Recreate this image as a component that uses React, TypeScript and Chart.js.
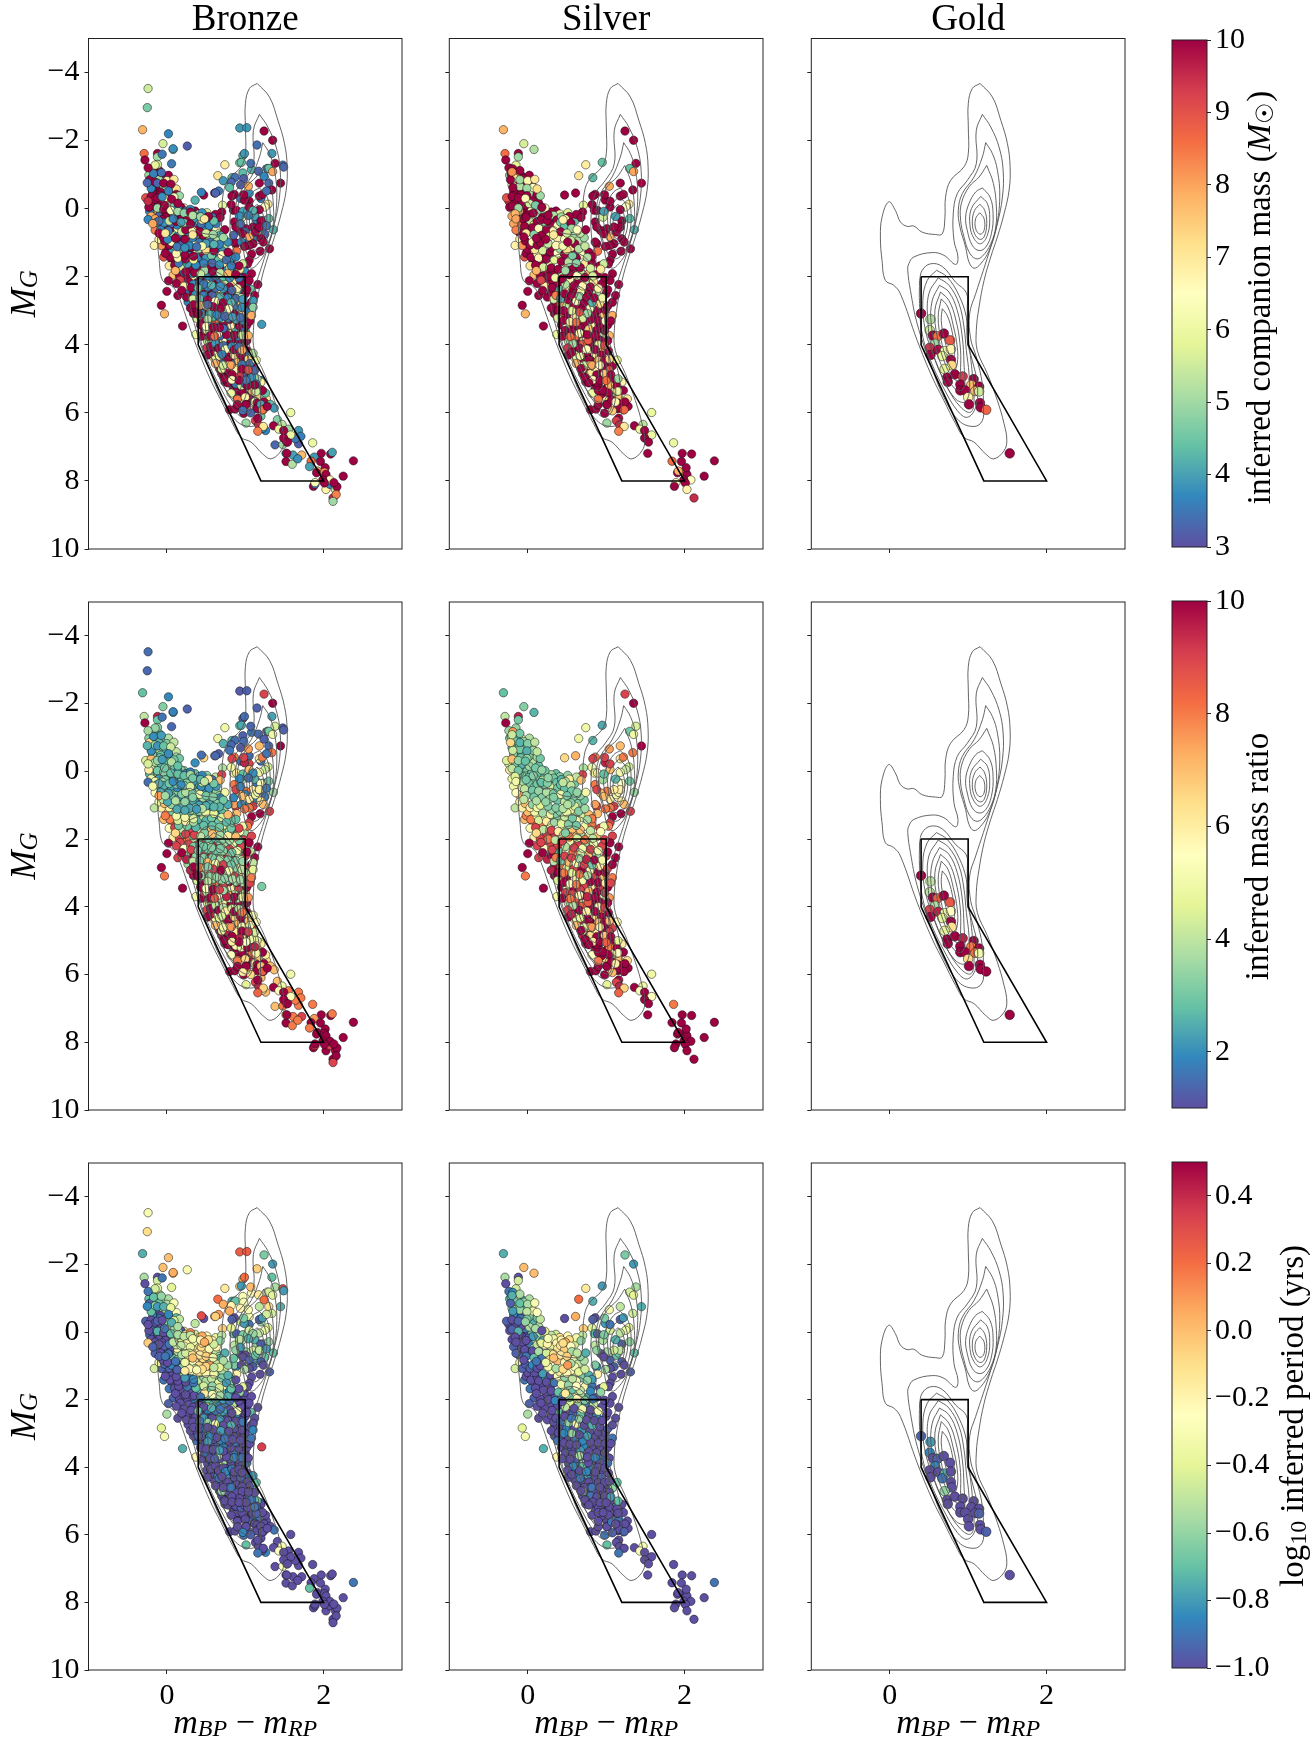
import React, { useEffect, useRef } from "react";
import { Chart, registerables } from "chart.js";
Chart.register(...registerables);

type Pt = [number, number, number, number, number]; // colour index, magnitude, mass, ratio, log period
const FONT = "'Liberation Serif', serif";

const columnTitles = ["Bronze", "Silver", "Gold"];
const xTickValues = [0, 2];
const yTickValues = [-4, -2, 0, 2, 4, 6, 8, 10];
const massTicks = [3, 4, 5, 6, 7, 8, 9, 10];
const ratioTicks = [2, 4, 6, 8, 10];
const periodTicks = [-1, -0.8, -0.6, -0.4, -0.2, 0, 0.2, 0.4];
const selectionBox = [[0.4, 2], [1, 2], [1, 4], [2, 8], [1.2, 8], [0.4, 4], [0.4, 2]];
const spectralStops = ["#5e4fa2", "#3288bd", "#66c2a5", "#abdda4", "#e6f598", "#ffffbf", "#fee08b", "#fdae61", "#f46d43", "#d53e4f", "#9e0142"];

const contour1 = [[1.152,-3.68],[1.309,-3.28],[1.416,-2.6],[1.501,-1.91],[1.535,-1.23],[1.522,-0.54],[1.458,0.15],[1.373,0.83],[1.288,1.42],[1.203,2.11],[1.139,2.89],[1.104,3.58],[1.117,4.17],[1.245,4.85],[1.373,5.64],[1.458,6.32],[1.493,6.81],[1.458,7.11],[1.33,7.35],[1.224,7.21],[1.075,6.86],[0.947,6.72],[0.84,6.32],[0.691,5.64],[0.542,4.95],[0.35,3.87],[0.136,2.5],[0.051,2.25],[-0.055,2.11],[-0.098,1.52],[-0.119,0.83],[-0.098,0.25],[-0.013,-0.2],[0.072,0.05],[0.136,0.39],[0.222,0.52],[0.307,0.51],[0.414,0.69],[0.584,0.76],[0.67,0.74],[0.704,0.25],[0.712,-0.34],[0.776,-0.83],[0.947,-1.23],[1.002,-1.62],[1.002,-2.4],[1.002,-3.09],[1.053,-3.53],[1.152,-3.68]];
const contour2 = [[1.181,-2.77],[1.288,-2.4],[1.394,-1.81],[1.446,-1.13],[1.437,-0.34],[1.373,0.44],[1.288,1.13],[1.194,1.81],[1.096,2.5],[1.019,3.09],[1.032,3.82],[1.104,4.36],[1.181,5.15],[1.194,5.83],[1.181,6.23],[1.075,6.4],[0.883,6.23],[0.691,5.54],[0.52,4.56],[0.35,3.38],[0.264,2.4],[0.23,1.81],[0.243,1.62],[0.307,1.42],[0.542,1.29],[0.691,1.37],[0.84,1.64],[0.87,1.42],[0.819,0.93],[0.81,0.15],[0.861,-0.44],[0.989,-0.83],[1.104,-1.32],[1.104,-2.3],[1.181,-2.77]];
const contour3 = [[1.224,-1.94],[1.309,-1.62],[1.373,-1.13],[1.403,-0.34],[1.36,0.54],[1.267,1.23],[1.16,1.62],[1.075,1.75],[1.011,1.57],[0.968,1.13],[0.896,0.54],[0.874,0.05],[0.925,-0.44],[1.075,-0.93],[1.181,-1.52],[1.224,-1.94]];
const contour4 = [[1.237,-1.27],[1.322,-0.74],[1.36,-0.05],[1.352,0.54],[1.288,1.03],[1.181,1.4],[1.096,1.47],[1.011,1.27],[0.947,0.83],[0.904,0.34],[0.913,-0.15],[1.011,-0.64],[1.139,-0.93],[1.237,-1.27]];
const contour5 = [[1.181,-0.61],[1.279,-0.34],[1.318,0.15],[1.296,0.74],[1.224,1.13],[1.139,1.23],[1.053,1.08],[0.989,0.64],[0.968,0.25],[1.011,-0.15],[1.096,-0.49],[1.181,-0.61]];
const contour6 = [[1.16,-0.36],[1.245,-0.15],[1.275,0.29],[1.245,0.78],[1.16,1.03],[1.075,0.88],[1.023,0.49],[1.041,0],[1.16,-0.36]];
const contour7 = [[1.151,-0.13],[1.211,0.05],[1.237,0.44],[1.203,0.83],[1.147,0.9],[1.083,0.74],[1.053,0.39],[1.083,0.05],[1.151,-0.13]];
const contour8 = [[1.147,0.12],[1.203,0.29],[1.203,0.64],[1.151,0.75],[1.096,0.59],[1.096,0.29],[1.147,0.12]];
const contourL1 = [[0.38,2.11],[0.414,1.81],[0.52,1.62],[0.67,1.7],[0.84,2.16],[0.977,2.47],[0.989,2.89],[0.989,3.87],[1.053,4.46],[1.117,5.15],[1.096,5.83],[0.989,6.13],[0.861,5.93],[0.691,5.29],[0.52,4.46],[0.414,3.68],[0.38,2.79],[0.38,2.11]];
const contourL2 = [[0.597,1.81],[0.733,2.01],[0.883,2.55],[0.977,3.19],[1.011,3.97],[1.053,4.85],[1.075,5.64],[1.032,5.98],[0.904,5.83],[0.733,5.25],[0.584,4.46],[0.456,3.58],[0.422,2.7],[0.478,2.11],[0.597,1.81]];
const contourL3 = [[0.618,2.03],[0.755,2.25],[0.883,2.79],[0.947,3.48],[0.977,4.17],[1.011,4.85],[1.011,5.44],[0.947,5.69],[0.819,5.54],[0.67,4.95],[0.542,4.17],[0.486,3.28],[0.499,2.5],[0.618,2.03]];
const contourL4 = [[0.635,2.25],[0.755,2.45],[0.861,2.99],[0.925,3.77],[0.947,4.56],[0.947,5.25],[0.861,5.34],[0.733,4.95],[0.606,4.26],[0.529,3.38],[0.542,2.7],[0.635,2.25]];
const contourL5 = [[0.648,2.45],[0.755,2.7],[0.84,3.24],[0.896,3.97],[0.904,4.66],[0.883,5.05],[0.797,4.95],[0.691,4.46],[0.606,3.77],[0.576,2.99],[0.648,2.45]];
const contourL6 = [[0.657,2.65],[0.742,2.89],[0.81,3.43],[0.861,4.07],[0.861,4.56],[0.819,4.75],[0.733,4.46],[0.657,3.87],[0.618,3.19],[0.657,2.65]];
const contourL7 = [[0.67,2.94],[0.733,3.14],[0.797,3.63],[0.827,4.17],[0.81,4.41],[0.755,4.26],[0.691,3.77],[0.657,3.28],[0.67,2.94]];
const contours = [contour1, contour2, contour3, contour4, contour5, contour6, contour7, contour8, contourL1, contourL2, contourL3, contourL4, contourL5, contourL6, contourL7];

const goldPoints: Pt[] = [
[0.4,3.08,10,10,-0.95],[0.52,3.25,5.2,4,-0.8],[0.51,3.57,5.5,4,-0.85],[0.55,3.73,10,10,-1],[0.61,3.75,8.6,8.5,-0.95],[0.69,3.67,10,10,-1],[0.77,3.87,8.9,8.6,-1],[0.58,3.97,5,3.8,-0.85],[0.51,4.09,9.4,9,-1],[0.62,4.15,9.9,9.5,-1],[0.7,4.19,6.2,5,-0.75],[0.78,4.13,6.7,5.5,-1],[0.52,4.3,10,10,-1],[0.67,4.33,5.9,4.6,-0.9],[0.78,4.44,10,10,-1],[0.79,4.6,7.3,6.3,-1],[0.7,4.71,5.8,4.7,-0.6],[0.73,4.97,10,10,-1],[0.83,4.87,10,10,-1],[0.93,4.93,9.3,9.5,-1],[0.74,5.09,10,10,-1],[1.07,5.01,10,10,-1],[0.9,5.17,10,10,-1],[1.04,5.18,7.7,8,-1],[1.14,5.23,10,10,-1],[0.9,5.34,10,10,-1],[0.96,5.34,10,10,-1],[1.09,5.36,7.8,8.2,-1],[1.14,5.37,5.5,5,-0.95],[1,5.54,6.8,6.5,-1],[1.01,5.75,10,10,-1],[1.15,5.71,10,10,-1],[1.16,5.84,10,10,-1],[1.23,5.91,8.7,10,-0.95],[1.53,7.19,10,10,-1]];

const silverPoints: Pt[] = [
[-0.31,-2.32,7.8,2.8,-0.75],[-0.05,-1.91,5.6,3.2,0],[0.08,-1.74,5.2,2.6,0],[-0.29,-1.62,8.6,4,-0.55],[-0.12,-1.62,10,9.5,-1],[-0.12,-1.52,5,3,-0.45],[-0.28,-1.43,10,10,-1],
[1.24,-2.28,10,9,-0.65],[1.35,-2.01,10,10,-0.8],[1.38,-1.33,10,4.4,-0.55],[1.3,-1.18,4.4,3,-0.45],[1.35,-1.09,8,5,-0.4],[1.45,-0.75,10,10,-0.75],[1.18,-0.75,10,7,-0.5],[1.34,-0.55,10,8,-0.45],[1.04,-0.66,7.9,7.5,-0.3],[0.95,-1.36,4.4,2.4,-0.8],[0.74,-1.29,6.9,5,-0.15],[0.65,-0.97,7.1,5,0.2],[0.83,-0.91,4.3,2.6,-0.75],[0.47,-0.4,10,6.5,-1],[0.61,-0.46,10,7.2,0.05],
[0.86,-0.42,10,8,-1],[0.83,-0.37,10,9,-0.95],[0.98,-0.41,10,9,-0.65],[1.18,-0.37,10,6,-0.95],[1.22,-0.42,10,8,-0.8],[0.71,-0.1,5.8,3.8,-0.05],[0.82,-0.12,10,5,-0.4],[0.7,0.1,10,9,-0.5],[0.68,0.26,10,7,-0.6],[0.53,0.23,10,6,-0.1],[0.85,0.05,10,4.8,-0.7],[0.89,0.05,10,6,-0.95],[0.97,0.08,4,2.8,-0.65],[1.05,-0.22,10,9,-0.9],[1.05,-0.05,10,7,-0.45],[0.99,-0.25,10,9.5,-0.8],[1.29,-0.13,7,4.4,-0.4],[1.25,-0.05,6.5,4.2,-0.35],[1.18,0.03,10,5,-0.5],[1.12,0.23,4,2.6,-0.75],[0.96,0.25,5.5,3.6,-0.55],[1.3,0.29,4.3,3,-0.6],[1.36,0.62,4.2,3.5,-0.7],[1.2,0.36,10,5.5,-0.95],[1.18,0.54,10,6,-0.5],[1.1,0.54,10,6,-0.45],[1.01,0.59,10,8,-0.55],[0.93,0.64,10,7,-1],[0.86,0.39,10,8,-0.5],[0.88,0.54,10,9,-0.6],[0.97,0.74,10,7,-1],[1.05,0.83,7.9,6,-0.95],[1.13,0.69,10,5,-0.7],[1.2,0.88,10,6,-0.95],[1.23,0.98,10,7,-1],[1.31,1.18,10,9,-0.95],[1.19,1.25,10,10,-1],[1.1,1.03,10,9,-0.95],[1.05,1.08,10,8,-1],[0.99,1.11,10,8,-0.55],[0.88,1.03,10,9,-0.85],[0.86,0.98,10,7.5,-0.65],[0.89,1.25,8.5,7,-0.2],[0.82,1.4,10,8,-0.8],[1.08,1.34,10,10,-1],[1.05,1.52,10,9,-1],[1.03,1.62,10,8,-1],[0.97,1.62,5.5,5,-0.4],[0.93,1.78,7,5.6,-0.6],[1.08,1.91,10,9,-1],[1.05,2.11,10,10,-1],[1.16,2.23,10,10,-1],[1.12,2.55,10,10,-1],
[-0.15,-1.28,5.8,3.4,-0.45],[-0.24,-1.2,10,3.6,-0.9],[-0.19,-1.17,10,7.6,-0.85],[-0.1,-1.12,10,3,-0.55],[-0.2,-1.08,8.2,4.2,-0.75],[-0.12,-1.02,10,2.8,-0.45],[-0.23,-0.98,5,3.2,-0.7],[-0.08,-0.97,10,5.2,-0.75],[0.02,-0.98,10,3.8,-0.55],[-0.17,-0.9,7.2,3,-0.65],[-0.22,-0.85,10,6.5,-0.95],[-0.1,-0.85,5,2.6,-0.7],[0,-0.82,6.7,3.2,-0.55],[0.09,-0.86,7,4,-0.3],[-0.15,-0.78,10,3.6,-0.6],[-0.04,-0.75,10,2.8,-0.75],[0.05,-0.72,10,4.2,-0.4],[-0.2,-0.7,6.2,2.6,-0.5],[-0.1,-0.65,5.2,3,-0.6],[0.07,-0.62,6.5,3.5,-0.35],[0.12,-0.58,7.2,4,-0.25],[-0.01,-0.6,5,2.5,-0.5],[-0.13,-0.55,10,4.2,-0.95],[-0.18,-0.5,10,3.2,-0.85],[-0.08,-0.48,10,2.8,-1],[0.02,-0.45,5.2,3.2,-0.6],[0.12,-0.42,10,3.6,-0.7],[0.16,-0.38,5,3,-0.5],[-0.2,-0.36,10,7,-1],[-0.12,-0.32,10,3.4,-0.95],[-0.03,-0.3,6.6,2.8,-0.6],[0.06,-0.28,10,3.8,-0.75],[-0.24,-0.22,9.5,4.4,-1],[-0.16,-0.18,10,3,-1],[-0.07,-0.2,10,2.6,-1],[0.02,-0.15,5.6,3.5,-0.55],[0.1,-0.1,4.6,3,-0.55],[0.18,-0.04,10,3.4,-1],[-0.2,-0.08,10,4,-0.95],[-0.12,-0.02,5,3,-0.75],[-0.04,0.02,10,3.2,-1],[0.05,0.05,6.6,2.8,-0.7],[0.14,0.08,5,2.8,-0.55],[0.22,0.13,4.8,2.8,-0.5],[0.3,0.1,10,3.6,-0.5],[0.33,0.2,5.2,3,-0.35],[0.43,0.24,5,2.6,-0.2],[0.48,0.3,7,4,0.05],[-0.16,0.15,7.8,4.5,-1],[-0.08,0.12,10,3.4,-1],[0.01,0.18,10,2.8,-0.95],[0.1,0.22,5,3,-0.6],[0.19,0.26,10,3.8,-0.75],[0.27,0.28,6,3.4,-0.3],[0.37,0.33,10,2.9,-0.2],[0.42,0.4,4.6,2.8,-0.15],[0.55,0.42,10,4,-0.25],[-0.15,0.3,8,5,-1],[-0.06,0.32,10,3.6,-1],[0.03,0.36,5.4,3,-0.9],[0.12,0.38,10,3,-0.5],[0.22,0.42,5,3,-0.3],[0.3,0.45,10,4.4,-0.4],[0.38,0.5,6.4,3,-0.15],[0.47,0.52,4.4,2.8,-0.05],[0.56,0.58,5,3,-0.55],[0.63,0.62,6.6,3.4,-0.5],[-0.12,0.5,8.6,5,-1],[-0.04,0.52,10,4,-1],[0.06,0.56,10,3,-1],[0.14,0.58,6.4,3.4,-0.55],[0.24,0.62,10,3.8,-0.45],[0.33,0.65,6.7,3,-0.1],[0.42,0.68,10,5,-0.15],[0.5,0.72,5.6,3,-0.05],[0.59,0.76,5,3.2,-0.35],[-0.1,0.72,10,7.5,-0.95],[-0.02,0.72,7,3.6,-0.9],[0.08,0.76,4.8,3,-0.7],[0.18,0.78,10,3.2,-0.9],[0.28,0.82,6,3.6,-0.1],[0.38,0.86,6.8,2.9,0],[0.47,0.9,6.5,4,-0.3],[0.55,0.93,5.4,3.2,-0.55],[0.64,0.95,5.2,3.2,-0.5],[-0.16,1.08,6.8,4,-0.45],[-0.1,0.9,6.8,5,-0.35],[-0.03,0.95,10,7,-0.95],[0.06,0.98,6.6,3.4,-0.85],[0.16,1,10,4.6,-1],[0.26,1.03,5.4,3.2,-0.35],[0.36,1.08,6.7,3.2,-0.55],[0.45,1.1,6.2,3.8,-0.1],[0.55,1.14,7,4.6,-0.25],[0.65,1.18,5.2,3.2,-0.4],[0,1.2,10,7,-1],[0.09,1.2,7,5,-1],[0.19,1.23,5.6,3.6,-0.8],[0.29,1.27,10,5,-1],[0.38,1.3,6.5,3.2,-0.3],[0.47,1.34,10,4.2,-0.6],[0.57,1.38,4.6,3,-0.5],[0.7,1.36,6.6,4.4,-0.65],[-0.04,1.42,9,7,-0.9],[0.04,1.42,10,8,-1],[0.14,1.45,6.7,4.4,-1],[0.24,1.48,10,6,-1],[0.34,1.5,5.8,3.6,-0.9],[0.43,1.55,10,4.6,-0.35],[0.52,1.57,5.2,3.2,-0.6],[0.62,1.6,4.8,3,-0.25],[0.73,1.62,7,5,-0.2],[0.82,1.6,10,8,-0.9],
[0.03,1.68,7,5.6,-0.9],[0.1,1.66,10,9,-1],[0.2,1.72,5.6,4,-1],[0.3,1.74,10,9,-1],[0.39,1.78,10,6,-0.7],[0.48,1.82,5,3.2,-0.15],[0.58,1.85,10,7,-0.3],[0.68,1.88,5.4,3.6,-0.55],[0.78,1.9,7.8,6,-0.75],[0.88,1.93,10,7,-1],[0.08,1.95,7.6,6,-0.95],[0.16,1.98,10,9,-1],[0.26,2,10,8,-1],[0.35,2.03,6,4,-0.85],[0.44,2.06,10,9,-1],[0.54,2.1,6.7,5,-0.4],[0.64,2.12,10,9,-0.6],[0.74,2.13,5.4,3.6,-0.9],[0.84,2.15,7,5,-0.5],[0.95,2.2,10,9,-1],[0.02,2.12,10,10,-0.95],[0.12,2.2,10,9,-1],[0.22,2.28,6.8,5.5,-1],[0.31,2.32,10,9,-1],[0.4,2.34,4.4,3,-0.7],[0.49,2.36,7,5.5,-1],[0.58,2.4,10,8,-0.95],[0.68,2.44,6,4,-0.7],[0.78,2.45,10,7,-1],[0.88,2.48,5.2,3.6,-0.85],[1,2.5,10,9,-1],[0,2.43,10,10,-0.55],[0.14,2.55,10,9,-1],[0.25,2.6,10,9.5,-1],[0.33,2.66,5.6,4,-1],[0.42,2.64,4.2,3,-0.9],[0.52,2.68,10,7,-0.6],[0.62,2.72,6.6,5,-0.35],[0.72,2.76,10,9,-1],[0.82,2.76,4.2,3,-0.75],[0.92,2.8,7.2,6,-1],[1.02,2.86,10,9,-0.95],[-0.07,2.84,10,10,-0.4],[-0.03,3.09,7.8,8,-0.3],[0.2,3.45,10,10,-0.75],[0.3,2.92,10,9.5,-1],[0.39,2.98,10,10,-1],[0.46,3,10,8,-0.85],[0.56,3,5.8,4.6,-0.6],[0.66,3.04,9,8,-1],[0.76,3.08,5,3.8,-0.8],[0.86,3.1,10,9,-1],[0.96,3.14,7.6,7,-1],[1.08,3.14,7.9,8,-0.9],[0.37,3.7,6,5,-0.2],[0.38,3.22,5.6,4.4,-0.9],[0.46,3.28,10,10,-1],[0.54,3.32,7,5.5,-1],[0.62,3.34,8.6,8,-1],[0.72,3.38,10,9,-0.85],[0.82,3.42,6.8,6,-1],[0.92,3.44,10,9,-1],[1.02,3.42,10,10,-1],[0.48,3.58,10,9,-1],[0.57,3.62,10,9,-1],[0.66,3.66,6.6,5.6,-0.55],[0.76,3.7,10,9.5,-1],[0.86,3.72,10,10,-0.85],[0.96,3.72,5.5,5,-0.9],[1.04,3.73,7.8,7.6,-1],[0.52,3.9,5.5,4.4,-1],[0.6,3.94,10,9,-0.85],[0.7,3.98,8.8,8.4,-0.7],[0.8,4,10,10,-0.9],[0.9,4,6,5.6,-1],[0.98,4.02,9,9,-1],[0.56,4.22,10,9.5,-1],[0.65,4.26,6.5,5.5,-0.85],[0.76,4.32,10,10,-0.8],[0.86,4.3,7,6.5,-1],[0.94,4.3,10,10,-0.95],[1.14,4.45,6,5.5,-0.7],[0.62,4.55,7.8,7,-1],[0.72,4.6,5.6,5,-1],[0.82,4.6,8,7.6,-0.9],[0.92,4.6,6.6,6,-1],[1,4.6,10,10,-1],[1.08,4.62,10,9,-0.6],[0.7,4.85,10,9.5,-1],[0.8,4.85,7,6.4,-0.9],[0.88,4.88,10,10,-1],[0.98,4.85,7.6,7,-1],[1.06,4.88,10,10,-0.8],[1.15,5,5,4.6,-0.7],[0.78,5.12,10,10,-1],[0.87,5.15,10,10,-0.85],[0.95,5.2,5.6,5,-0.95],[1.03,5.2,10,10,-1],[1.12,5.18,10,9.5,-0.9],[0.82,5.42,6,5.4,-1],[0.94,5.45,10,10,-1],[1.03,5.42,10,10,-1],[1.15,5.36,6,5.5,-1],[1.01,5.55,7,6.6,-1],[1.16,5.54,7.5,7,-0.9],[1.27,5.59,7,6.4,-1],[1.24,5.68,10,10,-1],
[0.8,5.91,10,10,-1],[0.87,5.89,10,10,-1],[0.9,5.76,10,10,-1],[1.01,5.76,10,10,-1],[1.08,5.94,7.5,7,-0.95],[1.15,5.88,10,10,-1],[1.22,5.91,8.5,8.5,-1],[1.28,5.81,10,10,-1],[0.98,6.01,10,10,-0.9],[1.01,6.3,5,4.6,-0.7],[1.13,6.23,9.3,9,-1],[1.17,6.35,9.5,9.5,-1],[1.23,6.4,7,6.6,-1],[1.16,6.54,8.4,8.4,-0.9],[1.16,6.16,10,10,-1],
[1.58,5.99,6,5,-1],[1.47,6.34,5.3,5,-0.3],[1.36,6.38,10,10,-1],[1.43,6.48,6,5.4,-0.25],[1.49,6.52,10,10,-1],[1.58,6.65,6,5.4,-1],[1.49,6.74,10,10,-1],[1.54,6.86,10,10,-1],[1.86,6.88,6,8,-1],[1.97,7.19,10,10,-1],[2.09,7.21,10,10,-1],[2.38,7.41,10,10,-0.9],[1.84,7.42,8.6,10,-1],[1.96,7.43,10,10,-1],[2.02,7.61,10,10,-1],[2.25,7.86,10,10,-1],[1.92,7.71,7.8,10,-1],[1.91,7.76,10,10,-1],[2.01,7.74,8.3,10,-1],[2.03,7.81,10,10,-1],[2.08,7.97,6.5,10,-1],[1.99,7.97,10,10,-1],[1.89,8.05,6.3,10,-1],[2.01,8.06,10,10,-1],[1.87,8.16,10,10,-1],[2.03,8.25,6.8,10,-1],[2.12,8.5,9.5,10,-1]];

const silverFillPoints: Pt[] = [
[-0.21,-1.02,10,3.2,-0.7],[-0.14,-0.93,8.4,2.8,-0.5],[-0.05,-0.88,10,3.4,-0.6],[-0.19,-0.62,10,4.2,-0.8],[-0.27,-0.32,9,4.5,-0.95],[-0.09,-0.4,10,2.9,-0.9],[-0.01,-0.38,10,3.4,-0.65],[0.09,-0.34,6.4,3,-0.45],[-0.15,-0.27,10,3.8,-1],[-0.23,-0.04,10,6,-1],[-0.03,-0.1,10,3,-0.9],[0.14,-0.16,10,2.8,-0.55],[0.22,-0.02,6.5,3,-0.4],[-0.11,0.07,7.8,2.9,-1],[0.07,0.13,10,3.2,-0.8],[0.26,0.19,10,3.4,-0.3],[0.36,0.07,10,2.8,-0.45],[0.41,0.16,6,3.2,-0.1],[0.51,0.12,5.7,3.4,-0.25],[0.62,0.17,10,4,-0.35],[-0.2,0.22,7.9,5,-1],[-0.02,0.25,10,3,-1],[0.17,0.33,10,2.8,-0.4],[0.25,0.35,10,3.2,-0.2],[0.45,0.33,6.8,4,-0.1],[0.6,0.36,4.4,3,-0.45],[-0.18,0.44,8,5,-0.95],[0.08,0.47,7,3.2,-0.6],[0.29,0.55,4.7,2.8,-0.25],[0.36,0.59,10,3.4,-0.15],[0.52,0.63,10,4.2,0.05],[0.67,0.72,5.4,3.4,-0.6],[0.74,0.62,10,5,-0.75],[-0.15,0.63,8.4,5.5,-0.95],[0.01,0.63,10,3.2,-1],[0.19,0.67,5.5,3.2,-0.55],[0.46,0.78,10,3.6,-0.1],[0.72,0.85,5,3,-0.55],[-0.05,0.83,10,4,-1],[0.11,0.87,10,3.8,-0.9],[0.23,0.9,10,3.4,-0.35],[0.33,0.77,7,3.2,0],[0.51,0.98,10,3.8,0.1],[0.6,1.03,10,4.4,-0.3],[0.73,1.1,5.4,3.6,-0.45],[-0.07,1.08,8.2,6,-0.95],[0.03,1.07,10,6,-0.95],[0.12,1.07,10,5,-1],[0.31,1.14,10,3.6,-0.3],[0.41,1.18,5,3.2,-0.15],[0.5,1.22,7.2,4.8,-0.2],[0.6,1.24,10,4.6,-0.35],[0.78,1.28,10,7,-0.75],[-0.02,1.31,10,8,-1],[0.12,1.32,6.7,5,-1],[0.23,1.36,10,5,-0.8],[0.34,1.4,10,4.4,-0.85],[0.43,1.43,6,4,-0.2],[0.62,1.45,10,5,-0.3],[0.76,1.43,5.2,3.6,-0.6],[0.07,1.55,10,8,-1],[0.18,1.57,10,8,-1],[0.29,1.6,6.6,5,-1],[0.47,1.68,6.6,4.5,-0.45],[0.57,1.7,10,7,-0.7],[0.67,1.73,10,7,-0.5],[0.8,1.75,5.6,4,-0.85],[0.92,1.68,10,9,-1],[0.11,1.82,7.8,6.5,-1],[0.24,1.85,10,9,-1],[0.35,1.88,10,9,-1],[0.43,1.92,5.4,4,-0.9],[0.53,1.94,10,8,-0.65],[0.63,1.97,6.4,4.4,-0.2],[0.73,2.02,10,8,-0.65],[0.83,1.98,5.6,4,-0.9],[0.98,2.02,10,9,-1],
[0.17,2.1,9.2,9,-1],[0.28,2.15,10,9,-1],[0.38,2.18,10,9,-1],[0.48,2.22,5.2,3.8,-0.5],[0.59,2.26,10,9,-1],[0.7,2.27,6.7,5,-0.35],[0.8,2.3,10,9,-1],[0.9,2.34,6.8,5,-0.3],[1.02,2.38,10,10,-1],[0.19,2.4,10,10,-1],[0.3,2.47,10,10,-1],[0.36,2.55,8.4,8,-1],[0.47,2.5,10,9,-1],[0.56,2.56,10,9,-0.9],[0.66,2.58,5,3.6,-0.6],[0.75,2.6,10,9.5,-1],[0.85,2.62,10,10,-1],[0.95,2.62,6,5,-1],[1.08,2.75,10,10,-1],[0.34,2.82,10,10,-1],[0.42,2.84,8,8,-1],[0.5,2.85,5.4,4.4,-0.85],[0.59,2.88,10,9,-1],[0.69,2.92,10,10,-0.8],[0.79,2.94,6.4,5,-1],[0.9,2.96,10,10,-1],[0.99,2.98,10,10,-1],[0.34,3.08,10,10,-1],[0.42,3.14,9,9,-1],[0.52,3.16,10,10,-1],[0.6,3.18,7,6,-0.9],[0.7,3.22,5.6,5,-0.85],[0.8,3.26,10,10,-1],[0.9,3.28,10,10,-1],[0.99,3.3,6.4,6,-1],[1.06,3.3,10,9,-1],[0.43,3.42,10,10,-1],[0.5,3.46,6.5,5.5,-1],[0.59,3.48,10,10,-1],[0.67,3.5,10,9,-0.8],[0.78,3.54,7.5,7,-1],[0.88,3.57,10,10,-1],[0.98,3.58,10,9,-1],[0.44,3.75,10,10,-1],[0.54,3.76,8.6,8,-1],[0.63,3.8,10,9,-1],[0.72,3.84,6.6,6,-0.55],[0.82,3.86,10,10,-1],[0.92,3.86,10,10,-1],[1.02,3.88,10,10,-0.9],[0.56,4.05,10,10,-1],[0.66,4.1,10,10,-1],[0.75,4.13,6.4,6,-0.85],[0.86,4.14,10,10,-1],[0.96,4.16,8,8,-1],[1.03,4.18,10,10,-1],[0.6,4.38,5.8,5,-1],[0.7,4.42,10,9.5,-1],[0.8,4.45,10,10,-0.8],[0.9,4.46,7.6,7,-1],[0.98,4.45,10,10,-1],[1.04,4.42,7.4,7,-1],[0.68,4.7,10,10,-1],[0.77,4.73,10,9.5,-1],[0.87,4.74,6.8,6,-1],[0.96,4.72,10,10,-1],[1.04,4.74,9,9,-1],[0.74,5,10,10,-1],[0.83,5.03,6.6,6,-1],[0.92,5.04,10,10,-1],[1,5.05,8.6,8.5,-1],[1.09,5.05,10,10,-1],[1.2,5.1,6.8,6,-1],[0.86,5.3,10,10,-1],[0.98,5.32,10,10,-1],[1.07,5.3,6,5.6,-1],[1.22,5.34,10,10,-1],[0.9,5.6,8.5,8,-1],[1.07,5.62,10,10,-0.9],[1.12,5.68,6.7,6,-1]];

const bronzeExtraPoints: Pt[] = [
[-0.24,-3.53,5.5,1.5,-0.3],[-0.25,-2.97,4.6,1.4,-0.1],[0.02,-2.2,3.7,1.9,0],[0.26,-1.84,3.2,1.3,-0.3],[0.08,-1.76,3.8,1.8,0.05],[-0.06,-1.6,3.5,1.6,-0.9],[0.06,-1.32,3.5,1.4,-0.4],[-0.12,-1.3,5.6,3.2,-0.35],
[0.93,-2.37,3.9,1.2,0.25],[1.02,-2.38,3.9,1.3,0.25],[1.15,-1.87,3.4,1.3,-0.05],[1.34,-1.62,3.9,2.3,-0.7],[1.48,-1.28,3.3,1.3,0.3],[1.49,-1.22,3.3,1.3,-0.8],[1.07,-1.33,3.4,1.4,0],[0.99,-1.62,3.9,1.5,0.2],[0.97,-1.56,4.2,1.3,0.05],[0.93,-1.35,4.8,2.8,-0.1],[1.28,-1.18,3.7,1.5,-0.3],[1.08,-1.15,4.2,1.6,-0.2],[1.17,-1.1,3.3,1.4,-0.15],[0.97,-1.05,4.3,1.3,-0.3],[1.24,-0.95,3.7,1.3,0.2],[0.87,-0.92,3.4,1.5,-0.7],[0.82,-0.78,3.3,1.4,-0.2],[0.72,-0.82,3.9,2.5,0.05],[0.98,-0.88,3.2,1.5,-0.3],[1.3,-0.75,3.3,1.4,-0.1],[0.94,-0.7,3.2,1.2,-0.2],[0.8,-0.62,4.3,1.6,0.05],[1.27,-0.52,3.4,1.6,-0.45],[1.05,-0.45,3.8,1.5,-0.3],[1.2,-0.3,3.6,1.6,-0.6],[0.94,-0.3,3.5,1.6,-0.45],
[0.44,-0.48,3.6,1.5,0.3],[0.66,-0.52,3.5,1.3,0.1],[0.62,-0.46,3.3,1.4,-0.05],[0.36,-0.25,4.2,2,-0.5],[0.58,0.25,3.4,1.5,-0.2],[0.3,0.02,3.7,1.8,0.15],[0.45,0.12,3.8,1.9,0.05],[0.93,0.22,3.8,1.9,-0.5],[1.1,0.05,4.2,2,-0.6],[1.04,0.2,3.6,1.5,-0.75],[0.94,0.45,3.4,1.8,-0.8],[1.27,0.5,3.5,1.7,-0.8],[1.23,0.35,3.3,1.9,-0.65],[1.14,0.32,3.6,1.7,-0.55],[1,0.68,3.3,1.9,-1],[1.12,0.85,3.7,2,-0.75],[1.25,0.75,3.3,1.7,-0.7],[1.05,0.95,3.4,2.2,-0.55],[0.95,0.98,3.7,2,-1],[0.85,0.78,3.3,1.9,-0.7],[0.78,0.98,3.8,2.4,-0.6],[1.18,0.55,3.2,1.7,-0.95],
[-0.24,0.32,3.7,1.5,-0.05],[-0.2,-0.6,3.7,2,-0.7],[-0.12,-0.75,3.3,2.1,-0.8],[-0.06,-0.35,3.8,2.2,-1],[0.02,-0.52,3.6,2,-0.85],[0.05,-0.08,3.5,2.2,-0.6],[-0.02,0.12,3.7,2.3,-0.9],[-0.1,0.22,3.3,2.2,-1],[0.08,0.14,3.9,2,-0.8],[0.16,0.22,3.6,2.2,-0.35],[0.26,0.2,3.7,2,-0.4],[0.36,0.22,3.6,2,-0.4],[0.34,0.42,3.4,2,-0.15],[0.24,0.5,3.8,1.9,-0.2],[0.13,0.48,3.7,2,-0.3],[0.05,0.44,3.2,2.3,-1],[-0.04,0.42,3.8,2.5,-0.95],[-0.13,0.4,4.3,3,-0.85],[-0.08,0.62,3.6,2.4,-1],[0.02,0.65,3.5,2.3,-0.9],[0.1,0.68,3.9,2,-0.45],[0.2,0.7,3.5,2.1,-0.3],[0.3,0.73,3.8,2.1,-0.15],[0.43,0.78,3.6,2.2,-0.35],[0.52,0.82,3.9,2.3,-0.2],[0.6,0.86,3.2,1.9,0.05],[0.68,0.78,4.1,2,-0.75],[0.1,0.9,4.3,2.8,-0.8],[0.22,0.92,3.9,2.2,-0.1],[0.33,0.95,3.7,2.4,-0.25],[0.41,1,3.5,2.3,-0.1],[0.5,1.02,3.9,2.5,-0.05],[0.6,1.05,4.2,2.6,-0.5],[0.13,1.12,3.5,2.4,-0.95],[0.23,1.15,3.8,2.4,-0.15],[0.33,1.18,4.2,2.6,-0.2],[0.42,1.22,3.6,2.2,-0.3],[0.52,1.25,3.8,2.8,-0.5],[0.62,1.28,3.4,2.2,-0.6],[0.05,1.3,3.9,3,-1],[0.18,1.34,4.4,3,-0.6],[0.28,1.38,3.7,2.7,-0.9],[0.4,1.42,3.6,2.6,-0.5],[0.5,1.45,3.9,2.6,-0.55],[0.66,1.5,4.4,3,-0.4],[0.76,1.5,3.4,2.7,-0.8],[0.88,1.42,3.7,2.8,-1],[0.15,1.6,3.5,2.9,-1],[0.26,1.62,4,3,-0.9],[0.37,1.66,3.7,2.6,-0.7],[0.56,1.72,3.8,3,-0.75],[0.72,1.76,3.5,2.9,-0.85],[0.87,1.76,3.3,2.7,-1],[0.99,1.82,3.8,3.5,-1],
[0.22,1.86,3.6,3,-1],[0.33,1.9,3.9,3,-1],[0.42,1.95,4.2,3,-0.8],[0.52,1.98,3.7,3,-0.7],[0.62,1.98,3.5,2.8,-0.75],[0.72,2,4.3,3.4,-0.8],[0.8,2.04,3.8,3.6,-0.9],[0.92,2.04,3.4,3.1,-1],[0.47,2.22,3.5,3,-1],[0.57,2.25,4.2,3.2,-0.75],[0.68,2.28,3.8,3.1,-0.9],[0.77,2.3,3.4,3.2,-1],[0.9,2.33,4,3.5,-0.95],[1,2.33,3.6,3.6,-1],[1.08,2.38,4.5,4,-0.7],[0.24,2.45,3.5,3.6,-1],[0.37,2.5,3.8,3.4,-1],[0.47,2.55,3.6,3.2,-0.8],[0.58,2.55,3.3,3.1,-1],[0.68,2.6,4.2,3.6,-0.8],[0.78,2.62,3.7,3.2,-1],[0.88,2.64,3.4,3.2,-1],[0.97,2.66,3.9,3.4,-0.9],[1.1,2.7,3.9,4,-1],[1.1,2.9,4.8,4.6,-0.85],[0.52,2.82,3.3,3.2,-1],[0.61,2.86,3.8,3.1,-0.85],[0.7,2.9,3.3,3.3,-1],[0.8,2.92,3.7,3.3,-0.95],[0.9,2.96,4.4,3.7,-1],[1,3,3.6,4,-1],[0.5,3.14,3.6,3.1,-1],[0.59,3.18,4.3,3.5,-1],[0.68,3.2,3.8,3.3,-0.85],[0.78,3.22,3.4,3.4,-1],[0.88,3.26,4,3.6,-0.9],[0.97,3.28,3.7,3.8,-1],[1.21,3.4,3.9,3.1,0.35],[0.53,3.46,4.1,3.6,-1],[0.63,3.48,3.7,3.5,-0.85],[0.72,3.52,3.4,3.6,-1],[0.82,3.56,4.5,4,-0.75],[0.92,3.58,3.6,3.8,-1],[1,3.58,4.4,4.6,-1],[0.53,3.75,3.4,3.3,-1],[0.62,3.78,3.9,4,-0.9],[0.72,3.82,4.4,4.4,-1],[0.82,3.86,3.6,3.5,-1],[0.92,3.88,3.9,4.5,-0.8],[1,3.86,5,5,-1],[0.56,4.06,3.5,3.5,-1],[0.66,4.1,4.2,4.4,-1],[0.75,4.12,3.7,3.5,-1],[0.85,4.14,4.4,4.8,-0.9],[0.95,4.16,3.9,4.4,-1],[1.1,4.25,5.2,5.2,-0.8],[0.62,4.38,3.3,3.5,-1],[0.7,4.42,3.9,4.4,-1],[0.8,4.45,4.4,5,-0.85],[0.9,4.45,3.7,4.2,-1],[1,4.44,3.6,4.6,-0.8],[0.67,4.7,3.7,4,-1],[0.76,4.72,4,4.4,-0.9],[0.86,4.74,3.5,4.4,-1],[0.95,4.72,4.6,5,-0.9],[1.04,4.72,3.6,5,-1],[1.12,4.75,3.3,4.4,-1],[0.75,4.98,3.4,5,-1],[0.84,5,4.4,4.8,-1],[0.93,5.03,3.8,5,-0.9],[1.01,5.04,3.5,5.4,-1],[1.1,5.02,4,5,-0.85],[1.2,5.05,3.6,5.5,-0.9],[0.85,5.28,3.6,5.5,-1],[0.98,5.28,4.1,5.6,-1],[1.06,5.3,3.8,5,-0.85],[1.18,5.3,4.4,6,-1],[1.26,5.42,4.4,6,-1],[0.9,5.58,3.5,6,-1],[1.06,5.6,3.3,6,-0.85],[1.12,5.65,3.9,6,-1],[1.32,5.75,4.3,7,-1],[1.37,5.86,3.9,7,-0.9],[1.2,5.75,4,7,-1],[0.97,5.93,3.4,6,-0.85],[1.07,6,3.3,6.5,-0.95],[1.2,6.1,4.6,7,-1],[1.26,6.52,3.7,7,-0.85],[1.22,6.46,3.7,6,-1],[1.41,6.2,4.7,7,-1],
[1.68,6.52,3.9,8,-1],[1.71,6.69,3.6,8,-1],[1.55,6.48,5,8,-1],[1.68,6.91,3.2,8,-1],[1.64,6.76,3.5,8,-1],[1.38,6.94,3.3,7,-1],[1.48,6.93,5,8,-0.25],[1.53,6.86,10,9,-0.3],[1.52,7.19,4,7,-1],[1.61,7.24,4,8,-1],[1.67,7.35,3.8,8,-1],[1.72,7.24,7.7,9,-1],[1.52,7.43,10,10,-1],[1.6,7.51,5.2,8,-1],[1.88,7.3,3.9,7.6,-1],[2.11,7.16,4,8,-1],[1.82,7.58,4,8,-0.7],[2.08,8.1,3.6,9,-1],[1.89,8.1,3.4,9,-1],[2.15,8.25,5.3,10,-1],[2.17,8.17,10,10,-1],[2.16,8.4,8.4,10,-1],[2.12,8.6,5,9,-1],[2.13,8.05,10,10,-1]];

const bronzeFillPoints: Pt[] = [
[-0.17,-1.03,3.6,2,-0.7],[-0.07,-1.06,3.4,2.2,-0.6],[-0.25,-0.76,3.3,2.6,-0.85],[-0.11,-0.5,3.7,2,-0.75],[0.08,-0.5,3.8,2,-0.35],[-0.19,-0.21,3.5,2.4,-0.95],[0.11,-0.25,3.5,2,-0.45],[-0.22,0.08,3.7,2.6,-0.9],[0.14,-0.02,3.6,2,-0.55],[0.24,0.07,3.4,1.9,-0.4],[0.34,0.29,3.9,2.1,-0.3],[0.44,0.45,3.4,2,-0.1],[0.54,0.5,3.7,2.1,-0.3],[0.5,0.28,3.6,1.8,-0.05],[0.63,0.44,3.5,2.2,-0.2],[-0.1,0.36,3.4,2.4,-1],[0.08,0.3,3.6,2,-0.5],[0.18,0.4,4,2,-0.5],[0.27,0.36,3.5,2.2,-0.35],[0.39,0.62,3.4,2.1,-0.2],[0.56,0.68,3.5,2.2,-0.3],[0.47,0.6,3.8,2,-0.05],[-0.07,0.8,3.3,2.5,-1],[0.14,0.8,3.5,2.1,-0.6],[0.26,0.68,3.7,2.2,-0.1],[0.35,0.87,3.4,2.2,-0.2],[0.45,0.95,3.7,2.2,-0.05],[0.55,0.98,3.4,2.4,0.1],[0.67,1.05,3.6,2.6,-0.4],[0.01,0.9,3.7,2.4,-1],[0.19,1.06,3.3,2.4,-0.65],[0.29,1.09,3.7,2.4,-0.2],[0.38,1.12,3.4,2.2,-0.3],[0.48,1.16,3.6,2.4,-0.1],[0.57,1.2,3.3,2.5,-0.15],[0.71,1.24,3.9,2.7,-0.55],[0.08,1.38,3.6,2.8,-1],[0.24,1.3,3.5,2.6,-0.4],[0.34,1.33,3.3,2.4,-0.4],[0.45,1.38,3.7,2.6,-0.55],[0.56,1.42,3.6,2.6,-0.3],[0.81,1.48,3.8,3,-0.6],[0.21,1.5,3.9,2.9,-1],[0.31,1.56,3.4,2.7,-0.8],[0.47,1.6,3.6,2.8,-0.45],[0.58,1.6,3.3,2.8,-0.6],[0.67,1.65,3.8,3,-0.45],[0.82,1.68,3.6,3,-0.7],[0.28,1.78,3.5,3,-1],[0.42,1.84,3.6,3,-0.65],[0.62,1.82,3.3,2.8,-0.7],[0.76,1.82,3.7,2.9,-0.75],[0.9,1.86,3.5,3,-1],[0.57,2.02,3.6,2.9,-0.7],[0.67,2.06,3.4,3.2,-0.85],[0.86,2.1,3.8,3.4,-1],[1.03,2.16,3.5,3.8,-1],[0.34,2.22,3.8,3.2,-1],[0.42,2.18,3.4,3,-1],[0.52,2.3,3.7,3,-0.85],[0.62,2.33,3.4,3,-0.9],[0.72,2.35,3.8,3.3,-0.8],[0.83,2.4,3.3,3,-1],[0.94,2.42,3.7,3.4,-1],[0.27,2.74,3.6,3.5,-1],[0.4,2.75,3.5,3.2,-1],[0.5,2.72,4,3.3,-0.9],[0.57,2.78,3.4,3.2,-1],[0.66,2.82,3.7,3.6,-0.9],[0.76,2.84,4.1,3.4,-1],[0.86,2.86,3.4,3.3,-1],[0.96,2.9,3.8,4,-1],[0.44,3.08,3.6,3.4,-1],[0.55,3.1,4.2,3.4,-0.85],[0.64,3.12,3.7,3.5,-1],[0.74,3.16,3.3,3.4,-0.9],[0.84,3.18,3.9,3.7,-1],[0.94,3.2,3.4,3.6,-1],[0.5,3.34,3.5,3.4,-1],[0.58,3.4,3.8,3.6,-1],[0.68,3.42,3.4,3.5,-1],[0.78,3.44,3.7,3.8,-1],[0.87,3.5,4.3,4,-0.9],[0.96,3.48,3.5,3.8,-1],[0.58,3.66,3.7,3.8,-1],[0.68,3.74,3.4,3.6,-1],[0.8,3.75,3.9,4,-0.95],[0.9,3.76,3.5,4,-1],[0.62,3.96,3.9,4,-1],[0.72,4.02,3.4,3.8,-1],[0.83,4.05,3.8,4.4,-0.9],[0.92,4.06,3.5,4,-1],[0.7,4.28,3.6,4.4,-1],[0.8,4.3,3.4,4.4,-1],[0.92,4.34,3.9,4.5,-1],[1.05,4.32,3.6,5,-0.85],[0.7,4.55,3.4,4.4,-1],[0.82,4.55,3.8,4.8,-0.9],[0.96,4.58,3.5,5,-1],[1.06,4.55,3.4,5,-1],[0.8,4.9,3.6,5,-1],[0.96,4.93,3.4,5.2,-1],[1.08,4.96,3.8,5,-0.9],[0.88,5.15,3.5,5.2,-1],[1,5.15,3.3,5.4,-1],[1.14,5.15,3.6,5.6,-1]];

// fixed stride through the list so that later rows do not systematically cover earlier rows
function strided(points: Pt[], stride: number): Pt[] {
  const n = points.length;
  const out: Pt[] = [];
  const gcd = (a: number, b: number): number => (b === 0 ? a : gcd(b, a % b));
  while (gcd(stride, n) !== 1) stride++;
  for (let i = 0; i < n; i++) out.push(points[(i * stride) % n]);
  return out;
}
const silverAll = strided([...silverPoints, ...silverFillPoints, ...goldPoints], 97);
const bronzeAll = strided([...bronzeExtraPoints, ...bronzeFillPoints, ...silverPoints, ...silverFillPoints, ...goldPoints], 211);
const panelPoints: Pt[][] = [bronzeAll, silverAll, goldPoints];

const colLefts = [88.5, 449.3, 811.3];
const rowTops = [38.5, 599.6, 1160.2];
const PW = 313;
const PH = 509.8;
const TICK_SIZE = 30;
const rows = [
  { col: 2, min: 3, max: 10, ticks: massTicks, fmt: (v: number) => String(v), label: [{ t: "inferred companion mass (" }, { t: "M", i: true }, { t: "☉", sub: true }, { t: ")" }], labelX: 1260, labelDy: 4 },
  { col: 3, min: 1, max: 10, ticks: ratioTicks, fmt: (v: number) => String(v), label: [{ t: "inferred mass ratio" }], labelX: 1258, labelDy: 2 },
  { col: 4, min: -1, max: 0.5, ticks: periodTicks, fmt: (v: number) => v.toFixed(1).replace("-", "−"), label: [{ t: "log" }, { t: "10", sub: true }, { t: " inferred period (yrs)" }], labelX: 1293, labelDy: 1 },
];

function hexToRgb(h: string) {
  return [parseInt(h.slice(1, 3), 16), parseInt(h.slice(3, 5), 16), parseInt(h.slice(5, 7), 16)];
}
function spectral(t: number) {
  const c = Math.min(1, Math.max(0, t)) * (spectralStops.length - 1);
  const i = Math.min(spectralStops.length - 2, Math.floor(c));
  const a = hexToRgb(spectralStops[i]);
  const b = hexToRgb(spectralStops[i + 1]);
  const f = c - i;
  return `rgb(${Math.round(a[0] + (b[0] - a[0]) * f)},${Math.round(a[1] + (b[1] - a[1]) * f)},${Math.round(a[2] + (b[2] - a[2]) * f)})`;
}

type Seg = { t: string; i?: boolean; sub?: boolean };
function drawRich(ctx: CanvasRenderingContext2D, segs: Seg[], cx: number, cy: number, size: number, rotate: boolean) {
  ctx.save();
  ctx.translate(cx, cy);
  if (rotate) ctx.rotate(-Math.PI / 2);
  ctx.textBaseline = "alphabetic";
  ctx.textAlign = "left";
  ctx.fillStyle = "#000";
  const fontOf = (s: Seg) => `${s.i ? "italic " : ""}${s.sub ? Math.round(size * 0.72) : size}px ${FONT}`;
  let total = 0;
  for (const s of segs) { ctx.font = fontOf(s); total += ctx.measureText(s.t).width; }
  let x = -total / 2;
  for (const s of segs) {
    ctx.font = fontOf(s);
    ctx.fillText(s.t, x, s.sub ? size * 0.38 : size * 0.3);
    x += ctx.measureText(s.t).width;
  }
  ctx.restore();
}

const framePlugin = {
  id: "frame",
  afterDatasetsDraw(chart: any) {
    const a = chart.chartArea;
    const ctx = chart.ctx;
    ctx.save();
    ctx.strokeStyle = "#222";
    ctx.lineWidth = 1;
    ctx.strokeRect(a.left, a.top, a.right - a.left, a.bottom - a.top);
    ctx.restore();
  },
};

function Panel({ row, col }: { row: number; col: number }) {
  const ref = useRef<HTMLCanvasElement>(null);
  const padL = 88 + (colLefts[col] - Math.floor(colLefts[col]));
  const canvasLeft = Math.floor(colLefts[col]) - 88;
  const canvasTop = row === 0 ? 0 : Math.floor(rowTops[row]) - 20;
  const padT = rowTops[row] - canvasTop;
  const padB = 78;
  const w = padL + PW + 10;
  const h = Math.ceil(padT + PH + padB);
  useEffect(() => {
    const cfg = rows[row];
    const pts = panelPoints[col];
    const r = col === 2 ? 4.8 : 4.2;
    const labelPlugin = {
      id: "labels",
      afterDraw(chart: any) {
        const a = chart.chartArea;
        const ctx = chart.ctx;
        if (col === 0) drawRich(ctx, [{ t: "M", i: true }, { t: "G", i: true, sub: true }], 24, (a.top + a.bottom) / 2, 35, true);
        if (row === 2) drawRich(ctx, [{ t: "m", i: true }, { t: "BP", i: true, sub: true }, { t: " − " }, { t: "m", i: true }, { t: "RP", i: true, sub: true }], (a.left + a.right) / 2, a.bottom + 53, 34, false);
      },
    };
    const chart = new Chart(ref.current!, {
      type: "scatter",
      data: {
        datasets: [
          {
            label: "selection", data: selectionBox.map(([x, y]) => ({ x, y })), showLine: true, pointRadius: 0,
            borderColor: "#000", borderWidth: 1.6, tension: 0, order: 0, fill: false,
          },
          ...contours.map((c, i) => ({
            label: `contour ${i + 1}`, data: c.map(([x, y]) => ({ x, y })), showLine: true, pointRadius: 0,
            borderColor: "#555", borderWidth: 0.9, tension: 0.4, order: 1, fill: false,
          })),
          {
            label: columnTitles[col], data: pts.map((p) => ({ x: p[0], y: p[1] })), showLine: false, order: 2,
            pointRadius: r, pointHoverRadius: r,
            pointBackgroundColor: pts.map((p) => spectral((p[cfg.col] - cfg.min) / (cfg.max - cfg.min))),
            pointBorderColor: "rgba(20,20,20,0.75)", pointBorderWidth: 0.7,
          },
        ] as any,
      },
      options: {
        animation: false, responsive: false, devicePixelRatio: 1,
        layout: { padding: { top: row === 0 ? padT - 37 : padT, right: 10, left: 0, bottom: 0 } },
        plugins: {
          legend: { display: false }, tooltip: { enabled: false },
          title: {
            display: row === 0, text: columnTitles[col], fullSize: false, color: "#000",
            font: { family: FONT, size: 37, weight: "normal", lineHeight: 1 }, padding: { top: 0, bottom: 0 },
          },
        },
        scales: {
          x: {
            type: "linear", min: -1, max: 3,
            afterBuildTicks: (s: any) => { s.ticks = xTickValues.map((value) => ({ value })); },
            afterFit: (s: any) => { s.height = padB; },
            grid: { drawOnChartArea: false, drawTicks: true, tickLength: 4, color: "#222" },
            border: { display: false },
            ticks: { color: "#000", font: { family: FONT, size: TICK_SIZE }, padding: 4, maxRotation: 0, autoSkip: false, callback: (v: any) => (row === 2 ? String(v) : "") },
          },
          y: {
            type: "linear", min: -5, max: 10, reverse: true,
            afterBuildTicks: (s: any) => { s.ticks = yTickValues.map((value) => ({ value })); },
            afterFit: (s: any) => { s.width = padL; },
            grid: { drawOnChartArea: false, drawTicks: true, tickLength: 4, color: "#222" },
            border: { display: false },
            ticks: { color: "#000", font: { family: FONT, size: TICK_SIZE }, padding: 5, autoSkip: false, callback: (v: any) => (col === 0 ? String(v).replace("-", "−") : "") },
          },
        },
      } as any,
      plugins: [framePlugin, labelPlugin],
    });
    return () => chart.destroy();
  }, []);
  return <canvas ref={ref} width={Math.ceil(w)} height={h} style={{ position: "absolute", left: canvasLeft, top: canvasTop, width: Math.ceil(w), height: h }} />;
}

function ColorBar({ row }: { row: number }) {
  const ref = useRef<HTMLCanvasElement>(null);
  const cfg = rows[row];
  const canvasLeft = 1160;
  const canvasTop = Math.floor(rowTops[row]) - 20;
  const padT = rowTops[row] - canvasTop;
  const barLeft = 1172;
  const barWidth = 35;
  const w = 1314 - canvasLeft;
  const h = Math.ceil(padT + PH + 20);
  useEffect(() => {
    const labelPlugin = {
      id: "cbLabel",
      afterDraw(chart: any) {
        const a = chart.chartArea;
        drawRich(chart.ctx, cfg.label as Seg[], cfg.labelX - canvasLeft, (a.top + a.bottom) / 2 + cfg.labelDy, 33, true);
      },
    };
    const chart = new Chart(ref.current!, {
      type: "bar",
      data: {
        labels: ["colour scale"],
        datasets: [{
          data: [[cfg.min, cfg.max]] as any,
          barPercentage: 1, categoryPercentage: 1, borderWidth: 0,
          backgroundColor: (c: any) => {
            const a = c.chart.chartArea;
            if (!a) return "#fff";
            const g = c.chart.ctx.createLinearGradient(0, a.bottom, 0, a.top);
            spectralStops.forEach((s, i) => g.addColorStop(i / (spectralStops.length - 1), s));
            return g;
          },
        }],
      },
      options: {
        animation: false, responsive: false, devicePixelRatio: 1,
        layout: { padding: { top: padT, bottom: h - padT - PH, left: barLeft - canvasLeft, right: 0 } },
        plugins: { legend: { display: false }, tooltip: { enabled: false } },
        scales: {
          x: { display: false },
          y: {
            type: "linear", position: "right", min: cfg.min, max: cfg.max,
            afterBuildTicks: (s: any) => { s.ticks = cfg.ticks.map((value) => ({ value })); },
            afterFit: (s: any) => { s.width = w - (barLeft - canvasLeft) - barWidth; },
            grid: { drawOnChartArea: false, drawTicks: true, tickLength: 4, color: "#222" },
            border: { display: false },
            ticks: { color: "#000", font: { family: FONT, size: TICK_SIZE }, padding: 4, autoSkip: false, callback: (v: any) => cfg.fmt(v) },
          },
        },
      } as any,
      plugins: [framePlugin, labelPlugin],
    });
    return () => chart.destroy();
  }, []);
  return <canvas ref={ref} width={w} height={h} style={{ position: "absolute", left: canvasLeft, top: canvasTop, width: w, height: h }} />;
}

export default function App() {
  return (
    <div style={{ position: "absolute", left: 0, top: 0, width: 1314, height: 1747, background: "#fff", overflow: "hidden" }}>
      {[0, 1, 2].map((row) => [0, 1, 2].map((col) => <Panel key={`${row}-${col}`} row={row} col={col} />))}
      {[0, 1, 2].map((row) => <ColorBar key={row} row={row} />)}
    </div>
  );
}
